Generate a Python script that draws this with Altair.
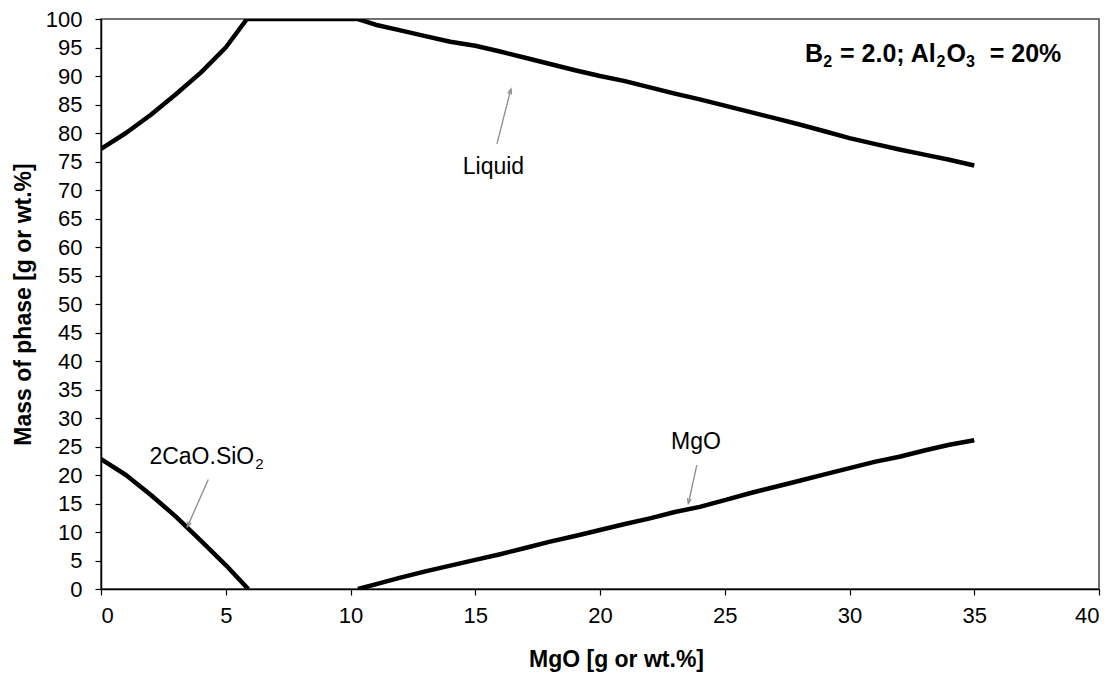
import math
import altair as alt
import pandas as pd

# ---- data ----
liquid_x = [0, 1, 2, 3, 4, 5, 5.85, 10.3, 11, 12, 13, 14, 15, 16, 17, 18, 19, 20, 21, 22, 23, 24, 25,
            26, 27, 28, 29, 30, 31, 32, 33, 34, 35]
liquid_y = [77.2, 80, 83.2, 86.8, 90.6, 95, 100, 100, 99, 98, 97, 96, 95.3, 94.3, 93.2, 92.1, 91, 90,
            89.1, 88, 86.9, 85.9, 84.8, 83.7, 82.6, 81.5, 80.3, 79.1, 78.1, 77.1, 76.2, 75.3, 74.3]

c2s_x = [0, 1, 2, 3, 4, 5, 5.9]
c2s_y = [22.8, 20, 16.5, 12.7, 8.5, 4.2, 0]

mgo_x = [10.3, 11, 12, 13, 14, 15, 16, 17, 18, 19, 20, 21, 22, 23, 24, 25, 26, 27, 28, 29, 30,
         31, 32, 33, 34, 35]
mgo_y = [0, 0.8, 2, 3.1, 4.1, 5.1, 6.1, 7.2, 8.3, 9.3, 10.35, 11.4, 12.4, 13.5, 14.4, 15.6, 16.8,
         17.9, 19.0, 20.1, 21.2, 22.3, 23.2, 24.3, 25.3, 26.1]

# annotation labels (text, subscript part, left x, centre y)
label_text = ["Liquid", "2CaO.SiO", "MgO"]
label_sub = ["", "2", ""]
label_x = [14.5, 1.94, 22.85]
label_y = [74.1, 23.2, 25.8]

arrow_tail_x = [15.87, 4.30, 23.88]
arrow_tail_y = [78.1, 19.2, 21.75]
arrow_head_x = [16.43, 3.46, 23.54]
arrow_head_y = [87.7, 10.9, 15.0]

# note "B2 = 2.0; Al2O3 = 20%" split into normal / subscript pieces
note_parts = ["B", "2", "= 2.0; Al", "2", "O", "3", "= 20%"]
note_is_sub = [False, True, False, True, False, True, False]
note_spaces_before = [0, 0, 1, 0, 0, 0, 2]
note_x = 28.22
note_y = 93.9

x_ticks = list(range(0, 41, 5))
y_ticks = list(range(0, 101, 5))

W, H = 998, 570
FONT = "Liberation Sans"

rows = []
for name, xs, ys in [("Liquid", liquid_x, liquid_y), ("C2S", c2s_x, c2s_y), ("MgO", mgo_x, mgo_y)]:
    for i, (a, b) in enumerate(zip(xs, ys)):
        rows.append({"series": name, "x": a, "y": b, "i": i})
lines_df = pd.DataFrame(rows)

xs_scale = alt.Scale(domain=[0, 40], nice=False, zero=False)
ys_scale = alt.Scale(domain=[0, 100], nice=False, zero=False)

x_axis = alt.Axis(values=x_ticks, title="MgO [g or wt.%]", titlePadding=22, tickCount=9,
                  labelPadding=10, labelOverlap=False, titleX=515)
y_axis = alt.Axis(values=y_ticks, title="Mass of phase [g or wt.%]", titlePadding=10, tickCount=21,
                  labelPadding=13, labelOverlap=False)


def X(field):
    return alt.X(field, type="quantitative", scale=xs_scale, axis=x_axis)


def Y(field):
    return alt.Y(field, type="quantitative", scale=ys_scale, axis=y_axis)


lines = alt.Chart(lines_df).mark_line(color="black", strokeWidth=4.5, clip=True,
                                      strokeJoin="round").encode(
    x=X("x"), y=Y("y"), detail="series:N", order="i:Q"
)

# arrows
px_x = W / 40.0
px_y = H / 100.0
arr_rows = []
for i in range(len(arrow_tail_x)):
    dx = (arrow_head_x[i] - arrow_tail_x[i]) * px_x
    dy = -(arrow_head_y[i] - arrow_tail_y[i]) * px_y
    ang = math.degrees(math.atan2(dx, -dy)) % 360
    arr_rows.append({"x": arrow_tail_x[i], "y": arrow_tail_y[i], "x2": arrow_head_x[i],
                     "y2": arrow_head_y[i], "ang": ang})
arr_df = pd.DataFrame(arr_rows)

shafts = alt.Chart(arr_df).mark_rule(color="#8c8c8c", strokeWidth=1.3).encode(
    x=X("x"), y=Y("y"), x2="x2:Q", y2="y2:Q"
)
heads = alt.Chart(arr_df).mark_point(
    shape="M -0.5 1.3 L 0 0 L 0.5 1.3", filled=False, color="#8c8c8c", strokeWidth=1.3,
    size=60, opacity=1
).encode(
    x=X("x2"), y=Y("y2"), angle=alt.Angle("ang:Q", scale=None)
)

# annotation labels
ANN = 23
char_w = {"2": .556, "C": .722, "a": .556, "O": .778, ".": .278, "S": .667, "i": .222,
          "L": .556, "q": .556, "u": .556, "d": .556, "M": .833, "g": .556}
lab_rows, sub_rows = [], []
for t, s, lx, ly in zip(label_text, label_sub, label_x, label_y):
    lab_rows.append({"x": lx, "y": ly, "t": t})
    if s:
        w = sum(char_w.get(c, .556) for c in t) * ANN
        sub_rows.append({"x": lx, "y": ly, "t": s, "dx": w + 1})
labels = alt.Chart(pd.DataFrame(lab_rows)).mark_text(
    font=FONT, fontSize=ANN, color="black", align="left", baseline="middle"
).encode(x=X("x"), y=Y("y"), text="t:N")
sub_layers = []
for r in sub_rows:
    sub_layers.append(alt.Chart(pd.DataFrame([r])).mark_text(
        font=FONT, fontSize=15, color="black", align="left", baseline="middle", dx=r["dx"], dy=7
    ).encode(x=X("x"), y=Y("y"), text="t:N"))

# note with subscripts
NOTE = 25
SUB = 16
bold_w = {"B": .722, "2": .556, " ": .278, "=": .584, ".": .278, "0": .556, ";": .333,
          "A": .722, "l": .278, "O": .778, "3": .556, "%": .889}
note_layers = []
off = 0.0
for part, sub, sp in zip(note_parts, note_is_sub, note_spaces_before):
    size = SUB if sub else NOTE
    off += sp * 0.278 * NOTE
    note_layers.append(alt.Chart(pd.DataFrame([{"x": note_x, "y": note_y, "t": part}])).mark_text(
        font=FONT, fontSize=size, fontWeight="bold", color="black", align="left",
        baseline="middle", dx=off, dy=8 if sub else 0
    ).encode(x=X("x"), y=Y("y"), text="t:N"))
    off += sum(bold_w.get(c, .556) for c in part) * size + (1 if sub else 0)

chart = alt.layer(lines, shafts, heads, labels, *sub_layers, *note_layers).properties(
    width=W, height=H,
    autosize=alt.AutoSizeParams(type="none"),
    padding={"left": 101, "top": 19, "right": 17, "bottom": 88},
    background="white",
).configure_view(
    stroke="#444444", strokeWidth=1.5
).configure_axis(
    grid=False, labelFont=FONT, labelFontSize=22, labelColor="black",
    titleFont=FONT, titleFontSize=23, titleFontWeight="bold", titleColor="black",
    domainColor="black", domainWidth=1.5, tickColor="black", tickSize=6, tickWidth=1.2,
)

chart.save("out.html", embed_options={"renderer": "svg", "actions": False})
